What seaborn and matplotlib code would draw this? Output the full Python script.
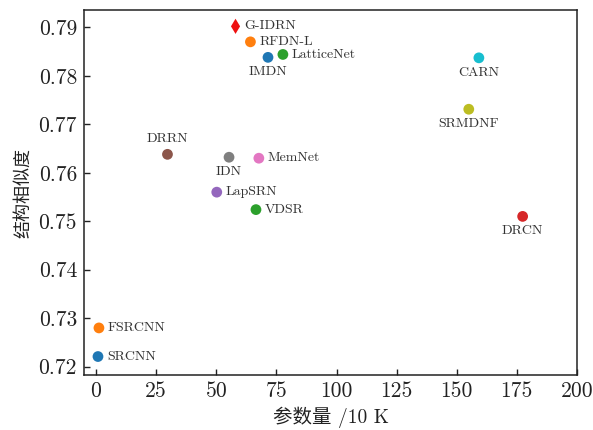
import matplotlib
matplotlib.use("Agg")
import matplotlib.pyplot as plt
import seaborn as sns
import pandas as pd

# Model names, parameter counts (in units of 10K) and SSIM scores
models = ["SRCNN", "FSRCNN", "VDSR", "DRCN", "LapSRN", "DRRN", "MemNet",
          "IDN", "SRMDNF", "CARN", "IMDN", "RFDN-L", "LatticeNet", "G-IDRN"]
params = [0.8, 1.2, 66.5, 177.4, 50.2, 29.7, 67.7,
          55.3, 155.0, 159.2, 71.5, 64.2, 77.7, 58.0]
ssim = [0.7221, 0.7280, 0.7524, 0.7510, 0.7560, 0.7638, 0.7630,
        0.7632, 0.7731, 0.7837, 0.7838, 0.7870, 0.7844, 0.7902]
colors = ["#1f77b4", "#ff7f0e", "#2ca02c", "#d62728", "#9467bd", "#8c564b", "#e377c2",
          "#7f7f7f", "#bcbd22", "#17becf", "#1f77b4", "#ff7f0e", "#2ca02c", "#ee1111"]
# label placement: side of the point
label_side = ["right", "right", "right", "below", "right", "above", "right",
              "below", "below", "below", "below", "right", "right", "right"]

xticks = [0, 25, 50, 75, 100, 125, 150, 175, 200]
yticks = [0.72, 0.73, 0.74, 0.75, 0.76, 0.77, 0.78, 0.79]

sns.set_theme(style="ticks")
plt.rcParams["font.family"] = ["cmr10", "Noto Sans CJK SC", "DejaVu Serif"]
plt.rcParams["axes.formatter.use_mathtext"] = True
plt.rcParams["mathtext.fontset"] = "cm"

df = pd.DataFrame({"model": models, "params": params, "ssim": ssim})
df["marker"] = ["d" if m == "G-IDRN" else "o" for m in models]

fig = plt.figure(figsize=(5.93, 4.30), dpi=100)
ax = fig.add_axes([0.1417, 0.128, 0.8313, 0.848])

sns.scatterplot(data=df, x="params", y="ssim", hue="model", style="model",
                palette=dict(zip(models, colors)),
                markers=dict(zip(models, df["marker"])),
                s=60, linewidth=0, legend=False, ax=ax, zorder=3)

for m, x, y, side in zip(models, params, ssim, label_side):
    if side == "right":
        off, ha, va = (9, 0), "left", "center"
    elif side == "below":
        off, ha, va = (0, -15), "center", "center"
    else:
        off, ha, va = (0, 15), "center", "center"
    ax.annotate(m, (x, y), xytext=off, textcoords="offset pixels",
                ha=ha, va=va, fontsize=10, color="#333333")

ax.set_xlim(-5, 200)
ax.set_ylim(0.7183, 0.7935)
ax.set_xticks(xticks)
ax.set_yticks(yticks)
ax.set_xticklabels([str(t) for t in xticks])
ax.set_yticklabels([f"{t:.2f}" for t in yticks])
ax.tick_params(direction="in", length=4, width=1, labelsize=15.5, colors="#222222",
               top=False, right=False, pad=5)
ax.set_xlabel("参数量 /10 K", fontsize=14, color="#222222", labelpad=4)
ax.set_ylabel("结构相似度", fontsize=13, color="#222222", labelpad=5)
for sp in ax.spines.values():
    sp.set_visible(True)
    sp.set_color("#222222")
    sp.set_linewidth(1.1)

fig.savefig("out.png", dpi=100)
